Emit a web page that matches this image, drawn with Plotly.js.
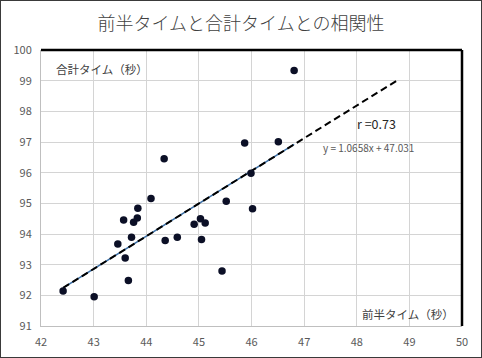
<!DOCTYPE html>
<html><head><meta charset="utf-8">
<script src="https://cdn.plot.ly/plotly-3.0.1.min.js"></script>
<style>
html,body{margin:0;padding:0;background:#fff;}
#wrap{width:482px;height:358px;box-sizing:border-box;border:1px solid #3a3a3a;}
#chart{width:480px;height:356px;}
</style></head>
<body><div id="wrap"><div id="chart"></div></div>
<script>
const chartTitle = '前半タイムと合計タイムとの相関性';
const xLabel = '前半タイム（秒）';
const yLabel = '合計タイム（秒）';
const firstHalf = [42.42, 43.01, 43.66, 43.60, 43.46, 43.72, 43.57, 43.76, 43.83, 43.84, 44.09, 44.34, 44.36, 44.59, 44.91, 45.03, 45.12, 45.05, 45.44, 45.52, 45.99, 46.02, 45.87, 46.51, 46.81];
const totalTime = [92.14, 91.95, 92.48, 93.22, 93.67, 93.89, 94.46, 94.38, 94.52, 94.84, 95.16, 96.45, 93.79, 93.89, 94.32, 94.50, 94.36, 93.82, 92.79, 95.07, 95.98, 94.82, 96.97, 97.01, 99.33];
const slope = 1.0658;
const intercept = 47.031;
const rValue = 0.73;
const forecastForward = 2;
const xTicks = [42, 43, 44, 45, 46, 47, 48, 49, 50];
const yTicks = [91, 92, 93, 94, 95, 96, 97, 98, 99, 100];

const xMin = Math.min(...firstHalf), xMax = Math.max(...firstHalf);
const fitX = [xMin, xMax];
const extX = [xMin, xMax + forecastForward];
const fy = x => slope * x + intercept;

const font = "'Noto Sans CJK JP', 'Noto Sans', sans-serif";

const traces = [
  {x: fitX, y: fitX.map(fy), mode: 'lines', line: {color: '#3a6ea5', width: 1.6}, hoverinfo: 'skip', showlegend: false},
  {x: extX, y: extX.map(fy), mode: 'lines', line: {color: '#000', width: 2, dash: '7px,4px'}, hoverinfo: 'skip', showlegend: false},
  {x: firstHalf, y: totalTime, mode: 'markers', marker: {color: '#0b0f26', size: 7.5}, showlegend: false}
];

const layout = {
  width: 480, height: 356,
  margin: {l: 40, r: 19, t: 49, b: 31},
  paper_bgcolor: '#fff', plot_bgcolor: '#fff',
  font: {family: font, color: '#595959', size: 11},
  title: {text: chartTitle, font: {family: font, size: 18, color: '#404040', weight: 300}, x: 0.5, xanchor: 'center', y: 0.935, yanchor: 'middle'},
  xaxis: {range: [42, 50], tickvals: xTicks, ticktext: xTicks.map(String), showgrid: true, gridcolor: '#d4d4d4', gridwidth: 1,
          showline: true, linecolor: '#bfbfbf', linewidth: 1, zeroline: false, ticks: '', ticklabelstandoff: 6,
          tickfont: {family: font, size: 11, color: '#595959'}, fixedrange: true},
  yaxis: {range: [91, 100], tickvals: yTicks, ticktext: yTicks.map(String), showgrid: true, gridcolor: '#d4d4d4', gridwidth: 1,
          showline: true, linecolor: '#bfbfbf', linewidth: 1, zeroline: false, ticks: '', ticklabelstandoff: 6,
          tickfont: {family: font, size: 11, color: '#595959'}, fixedrange: true},
  shapes: [
    {type: 'line', xref: 'paper', yref: 'paper', x0: 0, x1: 1, y0: 1, y1: 1, line: {color: '#000', width: 2.5}},
    {type: 'line', xref: 'paper', yref: 'paper', x0: 1, x1: 1, y0: 0, y1: 1, line: {color: '#000', width: 2.5}}
  ],
  annotations: [
    {xref: 'paper', yref: 'paper', x: 0.03, y: 0.93, xanchor: 'left', yanchor: 'middle', text: yLabel, showarrow: false,
     font: {family: font, size: 11.5, color: '#404040'}},
    {xref: 'paper', yref: 'paper', x: 0.985, y: 0.045, xanchor: 'right', yanchor: 'middle', text: xLabel, showarrow: false,
     font: {family: font, size: 11.5, color: '#404040'}},
    {xref: 'paper', yref: 'paper', x: 0.745, y: 0.732, xanchor: 'left', yanchor: 'middle', text: 'r =' + rValue.toFixed(2), showarrow: false,
     font: {family: font, size: 12.5, color: '#262626'}},
    {xref: 'paper', yref: 'paper', x: 0.665, y: 0.645, xanchor: 'left', yanchor: 'middle',
     text: 'y = ' + slope.toFixed(4) + 'x + ' + intercept.toFixed(3), showarrow: false,
     font: {family: font, size: 10, color: '#595959'}}
  ]
};

Plotly.newPlot('chart', traces, layout, {displayModeBar: false, staticPlot: true});
</script></body></html>
